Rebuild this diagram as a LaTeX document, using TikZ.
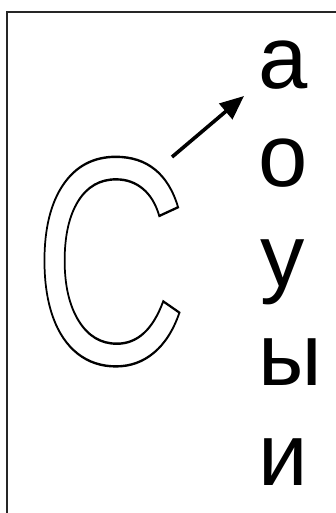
\documentclass[tikz,border=0pt]{standalone}
\usepackage{fontspec}
\usetikzlibrary{arrows.meta}
\newfontfamily\lsans{Liberation Sans}
\newcommand{\outlinetext}[1]{\special{pdf:literal direct 1 Tr 2.4 w}#1\special{pdf:literal direct 0 Tr}}
\tikzset{
  vowel/.style={anchor=base, inner sep=0pt, font=\lsans\fontsize{88.6}{100}\selectfont, text=black},
  frame/.style={line width=2pt, draw=black!85},
  pointer/.style={line width=3.6pt, -{Triangle[length=24pt,width=20pt]}},
}
\begin{document}
\begin{tikzpicture}[x=1pt,y=-1pt]
\useasboundingbox (0,0) rectangle (336,513);
\fill[white] (0,0) rectangle (336,513);
\draw[frame] (7,514) -- (7,12) -- (337,12);
\node[anchor=base west, inner sep=0pt, xscale=0.72, font=\lsans\fontsize{296}{300}\selectfont] (bigC) at (33.5,363.5) {\outlinetext{С}};
\node[vowel] (a) at (283.5,89) {а};
\node[vowel] (o) at (283.5,186) {о};
\node[vowel] (u) at (282.5,286) {у};
\node[vowel] (y) at (290.5,385) {ы};
\node[vowel] (i) at (283,485) {и};
\coordinate (tail) at (172,157);
\coordinate (tip) at (244,96);
\draw[pointer] (tail) -- (tip);
\end{tikzpicture}
\end{document}
